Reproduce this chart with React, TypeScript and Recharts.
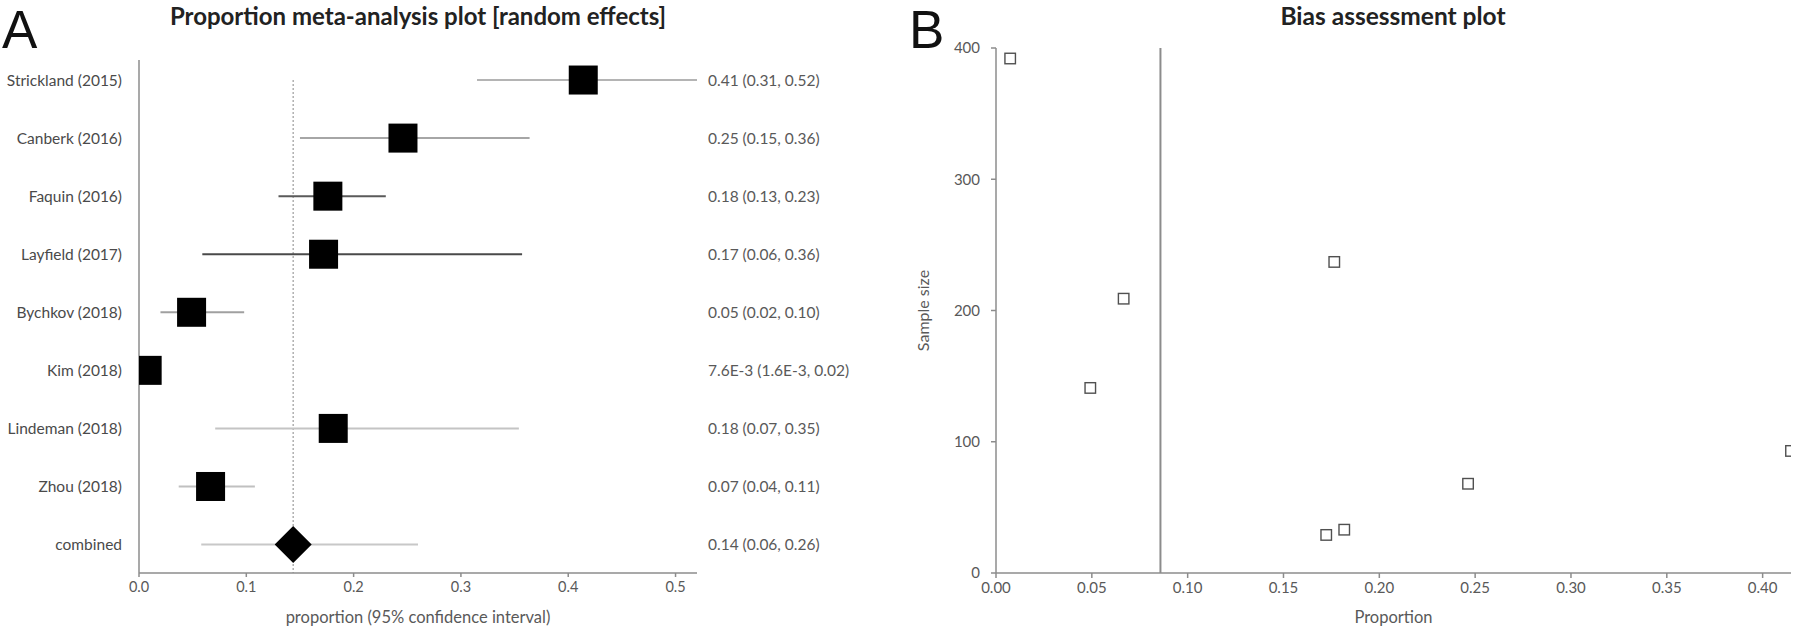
import React from 'react';
import { ScatterChart, Scatter, XAxis, YAxis, ReferenceLine, Label } from 'recharts';

// ---------- Panel A: forest plot data ----------
const studies = [
  'Strickland (2015)',
  'Canberk (2016)',
  'Faquin (2016)',
  'Layfield (2017)',
  'Bychkov (2018)',
  'Kim (2018)',
  'Lindeman (2018)',
  'Zhou (2018)',
  'combined',
];
const proportions = [0.414, 0.246, 0.176, 0.172, 0.049, 0.0076, 0.181, 0.0667, 0.1437];
const ciLower = [0.315, 0.15, 0.13, 0.059, 0.02, 0.0016, 0.071, 0.037, 0.058];
const ciUpper = [0.52, 0.364, 0.23, 0.357, 0.098, 0.02, 0.354, 0.108, 0.26];
const ciLabels = [
  '0.41 (0.31, 0.52)',
  '0.25 (0.15, 0.36)',
  '0.18 (0.13, 0.23)',
  '0.17 (0.06, 0.36)',
  '0.05 (0.02, 0.10)',
  '7.6E-3 (1.6E-3, 0.02)',
  '0.18 (0.07, 0.35)',
  '0.07 (0.04, 0.11)',
  '0.14 (0.06, 0.26)',
];
const forestTicks = [0, 0.1, 0.2, 0.3, 0.4, 0.5];
const ciStrokes = ['#b4b4b4', '#a6a6a6', '#5a5a5a', '#4a4a4a', '#a0a0a0', '#a0a0a0', '#c4c4c4', '#c0c0c0', '#c8c8c8'];

// ---------- Panel B: bias assessment data ----------
const biasProportions = [0.4148, 0.2463, 0.1765, 0.1723, 0.0492, 0.0074, 0.1817, 0.0666];
const sampleSizes = [93, 68, 237, 29, 141, 392, 33, 209];
const biasXTicks = [0, 0.05, 0.1, 0.15, 0.2, 0.25, 0.3, 0.35, 0.4];
const biasYTicks = [0, 100, 200, 300, 400];
const biasReference = 0.0858;

const FONT = "Lato, 'Open Sans', 'Liberation Sans', sans-serif";

const forestRows = studies.map((name, i) => ({ row: i, p: proportions[i], name }));
const rowIndices = studies.map((_, i) => i);
const biasRows = biasProportions.map((x, i) => ({ x, y: sampleSizes[i] }));

function ForestMarker(props: any) {
  const { cx, cy, payload } = props;
  if (cx == null || cy == null) return null;
  if (payload.row === studies.length - 1) {
    const h = 18.5;
    return (
      <polygon
        points={`${cx},${cy - h} ${cx + h},${cy} ${cx},${cy + h} ${cx - h},${cy}`}
        fill="#000"
      />
    );
  }
  const s = 29;
  return <rect x={cx - s / 2} y={cy - s / 2} width={s} height={s} fill="#000" />;
}

function HollowSquare(props: any) {
  const { cx, cy } = props;
  if (cx == null || cy == null) return null;
  const s = 10.5;
  return (
    <rect x={cx - s / 2} y={cy - s / 2} width={s} height={s} fill="#fff" stroke="#505050" strokeWidth={1.4} />
  );
}

const axisStroke = '#8c8c8c';
const tickText = { fill: '#595959', fontSize: 14.5, fontFamily: FONT };

export default function App() {
  return (
    <div
      style={{
        position: 'absolute',
        left: 0,
        top: 0,
        width: 1800,
        height: 626,
        background: '#fff',
        overflow: 'hidden',
      }}
    >
      <div style={{ position: 'absolute', left: 0, top: 0 }}>
        <ScatterChart width={900} height={626} margin={{ top: 60, right: 3, bottom: 0, left: 0 }}>
          <XAxis
            type="number"
            dataKey="p"
            domain={[0, 0.52]}
            ticks={forestTicks}
            tickFormatter={(v: number) => v.toFixed(1)}
            height={53}
            tickSize={4}
            tickMargin={5}
            stroke={axisStroke}
            strokeWidth={1.5}
            tick={tickText}
            allowDataOverflow
          >
            <Label
              value="proportion (95% confidence interval)"
              position="insideBottom"
              offset={3}
              style={{ fill: '#595959', fontSize: 16.5, fontFamily: FONT }}
            />
          </XAxis>
          <YAxis
            yAxisId="left"
            type="number"
            dataKey="row"
            domain={[-0.345, 8.49]}
            reversed
            ticks={rowIndices}
            tickFormatter={(i: number) => studies[i] ?? ''}
            width={139}
            tickLine={false}
            tickMargin={11}
            stroke={axisStroke}
            strokeWidth={1.5}
            tick={{ ...tickText, fontSize: 15.5, fill: '#4a4a4a' }}
            allowDataOverflow
          />
          <YAxis
            yAxisId="right"
            orientation="right"
            type="number"
            dataKey="row"
            domain={[-0.345, 8.49]}
            reversed
            ticks={rowIndices}
            tickFormatter={(i: number) => ciLabels[i] ?? ''}
            width={200}
            axisLine={false}
            tickLine={false}
            tickMargin={5}
            tick={{ ...tickText, fontSize: 15.5, textAnchor: 'start' }}
            allowDataOverflow
          />
          <ReferenceLine
            yAxisId="left"
            segment={[
              { x: proportions[studies.length - 1], y: 0 },
              { x: proportions[studies.length - 1], y: 8.49 },
            ]}
            stroke="#b0b0b0"
            strokeWidth={1.5}
            strokeDasharray="2 2"
            ifOverflow="visible"
          />
          {studies.map((s, i) => (
            <ReferenceLine
              key={s}
              yAxisId="left"
              segment={[
                { x: ciLower[i], y: i },
                { x: ciUpper[i], y: i },
              ]}
              stroke={ciStrokes[i]}
              strokeWidth={2}
              ifOverflow="visible"
            />
          ))}
          <Scatter
            yAxisId="left"
            data={forestRows}
            shape={ForestMarker}
            isAnimationActive={false}
          />
        </ScatterChart>
      </div>

      <div style={{ position: 'absolute', left: 900, top: 0 }}>
        <ScatterChart width={900} height={626} margin={{ top: 48, right: 9, bottom: 0, left: 0 }}>
          <XAxis
            type="number"
            dataKey="x"
            domain={[0, 0.4148]}
            ticks={biasXTicks}
            tickFormatter={(v: number) => v.toFixed(2)}
            height={53}
            tickSize={5}
            tickMargin={4}
            stroke={axisStroke}
            strokeWidth={1.5}
            tick={{ ...tickText, fontSize: 15 }}
            allowDataOverflow
          >
            <Label
              value="Proportion"
              position="insideBottom"
              offset={3}
              style={{ fill: '#595959', fontSize: 16.5, fontFamily: FONT }}
            />
          </XAxis>
          <YAxis
            type="number"
            dataKey="y"
            domain={[0, 400]}
            ticks={biasYTicks}
            width={96}
            tickSize={5}
            tickMargin={11}
            stroke={axisStroke}
            strokeWidth={1.5}
            tick={{ ...tickText, fontSize: 15 }}
            allowDataOverflow
          >
            <Label
              value="Sample size"
              position="insideLeft"
              angle={-90}
              offset={23}
              style={{ fill: '#595959', fontSize: 16, fontFamily: FONT, textAnchor: 'middle' }}
            />
          </YAxis>
          <ReferenceLine x={biasReference} stroke="#8c8c8c" strokeWidth={2} />
          <Scatter data={biasRows} shape={HollowSquare} isAnimationActive={false} />
        </ScatterChart>
      </div>

      <svg
        width={1800}
        height={626}
        style={{ position: 'absolute', left: 0, top: 0, pointerEvents: 'none' }}
      >
        <text x={2} y={48} fontSize={53} fontFamily="'Liberation Sans', sans-serif" fill="#111">
          A
        </text>
        <text x={418} y={25} fontSize={24} fontWeight={700} fontFamily={FONT} fill="#222" textAnchor="middle">
          Proportion meta-analysis plot [random effects]
        </text>
        <text x={909} y={48} fontSize={53} fontFamily="'Liberation Sans', sans-serif" fill="#111">
          B
        </text>
        <text x={1393} y={25} fontSize={24.5} fontWeight={700} fontFamily={FONT} fill="#222" textAnchor="middle">
          Bias assessment plot
        </text>
      </svg>
    </div>
  );
}
